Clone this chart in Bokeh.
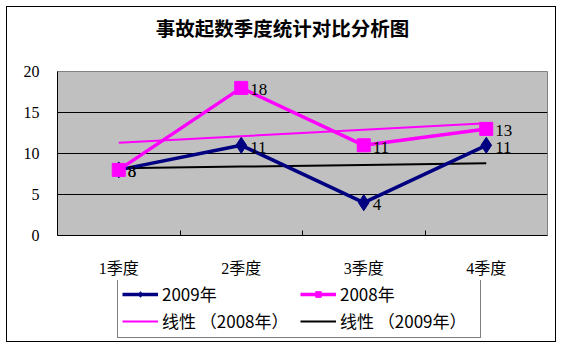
import numpy as np
from bokeh.plotting import figure
from bokeh.layouts import column
from bokeh.models import (ColumnDataSource, Range1d, FixedTicker, Legend, LegendItem, Label)
from bokeh.core.properties import value
from bokeh.embed import file_html
from bokeh.resources import INLINE

# ---- data ----
quarters = ["1季度", "2季度", "3季度", "4季度"]
y2009 = [8, 11, 4, 11]
y2008 = [8, 18, 11, 13]
yticks = [0, 5, 10, 15, 20]
title = "事故起数季度统计对比分析图"
names = ["2009年", "2008年", "线性 （2008年）", "线性 （2009年）"]

x = np.arange(1, len(quarters) + 1)
fit08 = np.polyval(np.polyfit(x, y2008, 1), x)
fit09 = np.polyval(np.polyfit(x, y2009, 1), x)

SERIF = "Liberation Serif, Noto Sans CJK SC"
CJK = "Noto Sans CJK SC"
W = 548
BL, BR = 50, 8   # left / right borders shared by all stacked figures


def strip(h):
    f = figure(width=W, height=h, output_backend="svg", toolbar_location=None,
               x_range=Range1d(BL, W - BR), y_range=Range1d(0, h),
               x_axis_location=None, y_axis_location=None,
               min_border_left=BL, min_border_right=BR, min_border_top=0, min_border_bottom=0)
    f.grid.visible = False
    f.outline_line_color = None
    f.background_fill_color = "white"
    f.border_fill_color = "white"
    return f


# ---- title strip ----
tt = strip(40)
tt.add_layout(Label(x=275, y=20, text=title, text_align="center",
                    text_baseline="middle", text_font=CJK, text_font_size="19.5px",
                    text_font_style="bold", text_color="black"))

# ---- main chart ----
p = figure(width=W, height=233, output_backend="svg", toolbar_location=None,
           x_range=Range1d(0.5, len(quarters) + 0.5), y_range=Range1d(0, 20),
           min_border_left=BL, min_border_right=BR, min_border_top=24, min_border_bottom=45)
p.background_fill_color = "#C0C0C0"
p.border_fill_color = "white"
p.outline_line_color = "#808080"

p.xaxis.ticker = FixedTicker(ticks=list(x), minor_ticks=[1.5, 2.5, 3.5])
p.xaxis.major_label_overrides = {int(i): q for i, q in zip(x, quarters)}
p.xaxis.major_tick_line_color = None
p.xaxis.minor_tick_in = 5
p.xaxis.minor_tick_out = 0
p.xaxis.minor_tick_line_color = "black"
p.xaxis.axis_line_color = "black"
p.xaxis.major_label_standoff = 18
p.xaxis.major_label_text_font = SERIF
p.xaxis.major_label_text_font_size = "16px"
p.xaxis.major_label_text_color = "black"

p.yaxis.ticker = FixedTicker(ticks=yticks, minor_ticks=[])
p.yaxis.major_tick_line_color = None
p.yaxis.minor_tick_line_color = None
p.yaxis.axis_line_color = "black"
p.yaxis.major_label_standoff = 12
p.yaxis.major_label_text_font = SERIF
p.yaxis.major_label_text_font_size = "16px"
p.yaxis.major_label_text_color = "black"

p.xgrid.grid_line_color = None
p.ygrid.ticker = FixedTicker(ticks=[5, 10, 15])
p.ygrid.grid_line_color = "black"
p.ygrid.grid_line_width = 1

src = ColumnDataSource(dict(x=x, y08=y2008, y09=y2009, f08=fit08, f09=fit09,
                            l08=[str(v) for v in y2008], l09=[str(v) for v in y2009]))

p.line("x", "f08", source=src, line_color="#FF00FF", line_width=2)
p.line("x", "f09", source=src, line_color="black", line_width=2)
p.line("x", "y09", source=src, line_color="#000080", line_width=3.5)
p.scatter("x", "y09", source=src, marker="diamond", size=16, fill_color="#000080",
          line_color="#000080")
p.line("x", "y08", source=src, line_color="#FF00FF", line_width=3.5)
p.scatter("x", "y08", source=src, marker="square", size=13, fill_color="#FF00FF",
          line_color="#FF00FF")

for col, ycol in (("l09", "y09"), ("l08", "y08")):
    p.text("x", ycol, text=col, source=src, x_offset=9, y_offset=2,
           text_baseline="middle", text_align="left", text_font=value("Liberation Serif"),
           text_font_size="17px", text_color="black")

# ---- legend strip (its glyphs hold no visible data) ----
lg = strip(61)
empty = ColumnDataSource(dict(x=[np.nan], y=[np.nan]))
g09 = lg.line("x", "y", source=empty, line_color="#000080", line_width=3.5)
s09 = lg.scatter("x", "y", source=empty, marker="diamond", size=12, fill_color="#000080",
                 line_color="#000080")
g08 = lg.line("x", "y", source=empty, line_color="#FF00FF", line_width=3.5)
s08 = lg.scatter("x", "y", source=empty, marker="square", size=9, fill_color="#FF00FF",
                 line_color="#FF00FF")
gt08 = lg.line("x", "y", source=empty, line_color="#FF00FF", line_width=2)
gt09 = lg.line("x", "y", source=empty, line_color="black", line_width=2)

# column-major fill: column 1 = 2009年 / 线性(2008年), column 2 = 2008年 / 线性(2009年)
legend = Legend(items=[
    LegendItem(label=names[0], renderers=[g09, s09]),
    LegendItem(label=names[2], renderers=[gt08]),
    LegendItem(label=names[1], renderers=[g08, s08]),
    LegendItem(label=names[3], renderers=[gt09]),
], location=(60, 3), ncols=2, border_line_color="black", border_line_width=1,
    background_fill_color="white", label_text_font=CJK, label_text_font_size="17px",
    glyph_width=36, glyph_height=14, spacing=2, padding=4, margin=0,
    label_standoff=4, label_width=136, label_height=18, label_text_color="black")
lg.add_layout(legend, "center")

layout = column(tt, p, lg, spacing=0, styles={"margin-left": "6px", "margin-top": "6px",
                                               "border": "1px solid black"})

open("out.html", "w").write(file_html(layout, INLINE))
